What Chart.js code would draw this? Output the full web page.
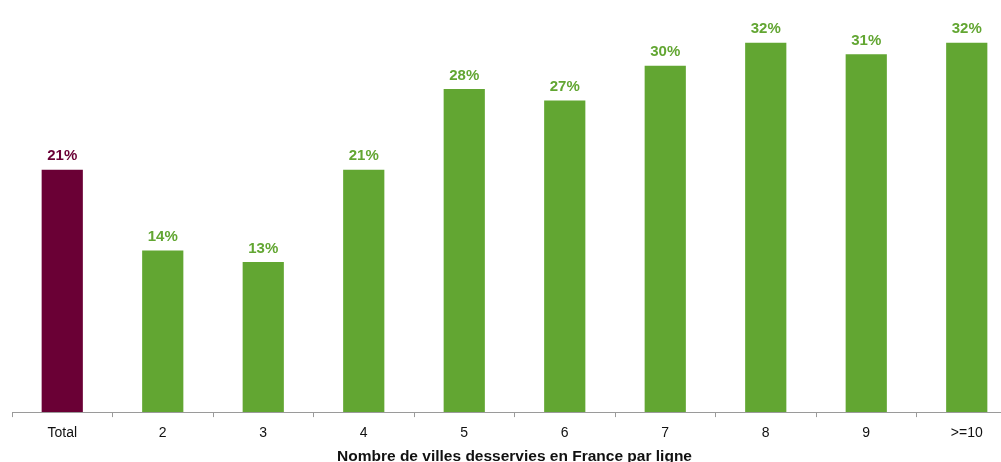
<!DOCTYPE html>
<html lang="fr">
<head>
    <meta charset="UTF-8">
    <title>Nombre de villes desservies en France par ligne</title>
    <script src="https://cdn.jsdelivr.net/npm/chart.js"></script>
    <style>
        html, body { margin: 0; padding: 0; background: #fff; overflow: hidden; }
        #wrap { width: 1001px; height: 462px; overflow: hidden; }
    </style>
</head>
<body>
    <div id="wrap">
        <canvas id="villesChart" width="1017" height="464"></canvas>
    </div>

    <script>
        // Catégories et parts (%)
        const categories = ['Total', '2', '3', '4', '5', '6', '7', '8', '9', '>=10'];
        const parts = [21, 14, 13, 21, 28, 27, 30, 32, 31, 32];

        const GREEN = '#62a632';
        const MAROON = '#6a0035';
        const barColors = categories.map(c => c === 'Total' ? MAROON : GREEN);

        // Étiquettes de valeur au-dessus des barres
        const valueLabels = {
            id: 'valueLabels',
            afterDatasetsDraw(chart) {
                const ctx = chart.ctx;
                const meta = chart.getDatasetMeta(0);
                ctx.save();
                ctx.font = 'bold 15px "Liberation Sans", Arial, sans-serif';
                ctx.textAlign = 'center';
                ctx.textBaseline = 'bottom';
                meta.data.forEach((bar, i) => {
                    ctx.fillStyle = barColors[i];
                    ctx.fillText(parts[i] + '%', bar.x, bar.y - 6);
                });
                ctx.restore();
            }
        };

        new Chart(document.getElementById('villesChart'), {
            type: 'bar',
            data: {
                labels: categories,
                datasets: [{
                    data: parts,
                    backgroundColor: barColors,
                    barPercentage: 0.41,
                    categoryPercentage: 1.0
                }]
            },
            options: {
                responsive: false,
                animation: false,
                layout: { padding: { left: 12, right: 0, top: 0, bottom: 0 } },
                plugins: {
                    legend: { display: false },
                    tooltip: { enabled: false }
                },
                scales: {
                    x: {
                        grid: {
                            offset: true,
                            drawOnChartArea: false,
                            drawTicks: true,
                            tickLength: 5,
                            color: '#9a9a9a'
                        },
                        border: { color: '#9a9a9a', width: 1 },
                        ticks: {
                            color: '#111',
                            padding: 8,
                            font: { family: '"Liberation Sans", Arial, sans-serif', size: 14, lineHeight: 1.1 }
                        },
                        title: {
                            display: true,
                            text: 'Nombre de villes desservies en France par ligne',
                            color: '#111',
                            padding: 0,
                            font: { family: '"Liberation Sans", Arial, sans-serif', size: 15.5, weight: 'bold', lineHeight: 1.0 }
                        }
                    },
                    y: {
                        display: false,
                        min: 0,
                        max: 35.7
                    }
                }
            },
            plugins: [valueLabels]
        });
    </script>
</body>
</html>
